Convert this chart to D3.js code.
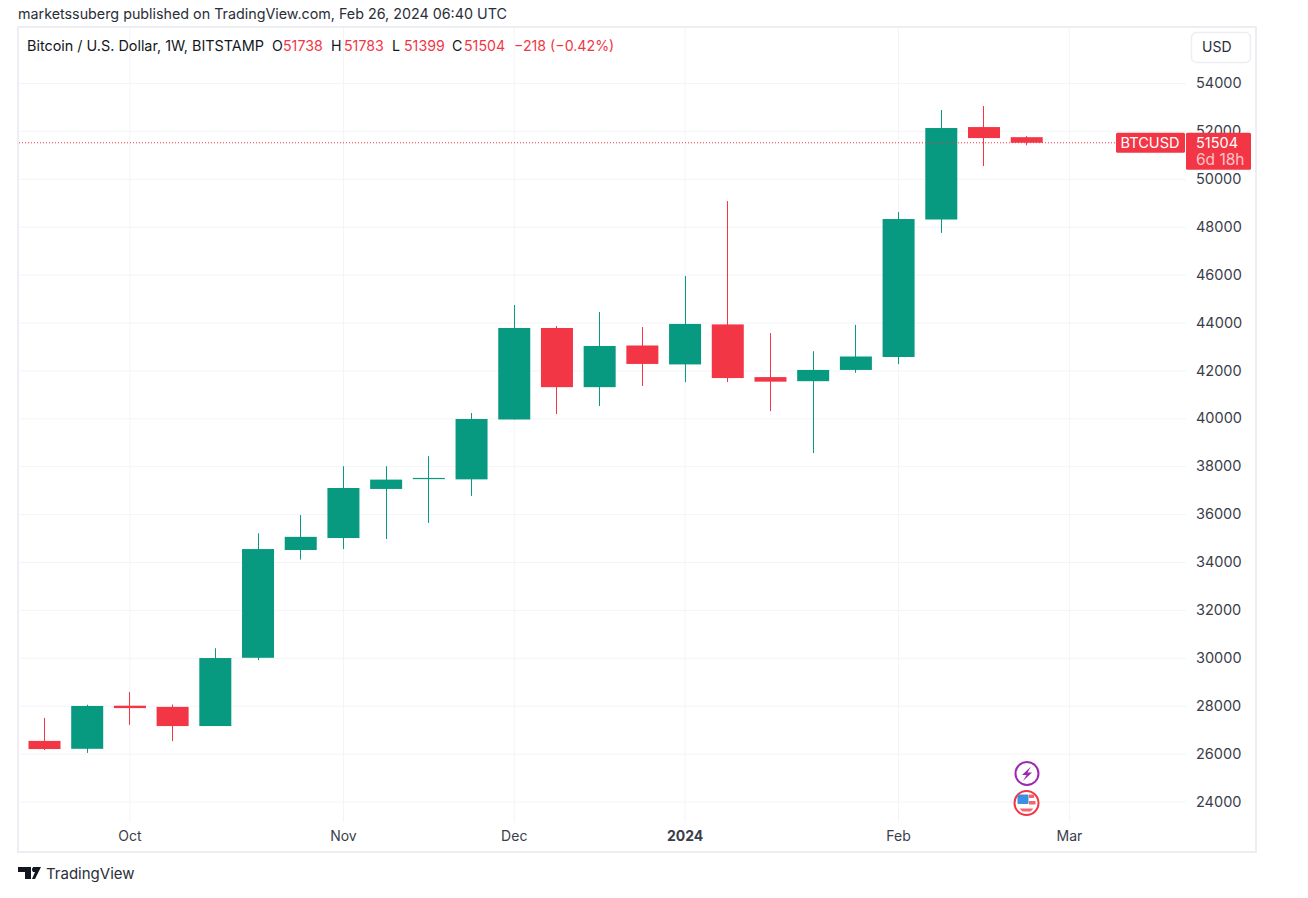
<!DOCTYPE html>
<html><head><meta charset="utf-8">
<script src="https://cdn.jsdelivr.net/npm/d3@7"></script>
<style>html,body{margin:0;padding:0;background:#fff}svg{display:block}text{font-family:Inter,"Liberation Sans",sans-serif}</style>
</head><body><svg id="c" width="1308" height="898"></svg>
<script>
const weeks = ["2023-09-18","2023-09-25","2023-10-02","2023-10-09","2023-10-16","2023-10-23","2023-10-30","2023-11-06","2023-11-13","2023-11-20","2023-11-27","2023-12-04","2023-12-11","2023-12-18","2023-12-25","2024-01-01","2024-01-08","2024-01-15","2024-01-22","2024-01-29","2024-02-05","2024-02-12","2024-02-19","2024-02-26"];
const opens  = [26530,26200,28000,27950,27150,30000,34500,35000,37050,37470,37450,39950,43770,41300,43040,42250,43920,41720,41550,42020,42560,48300,52160,51738];
const highs  = [27490,28040,28570,28050,30400,35200,35960,38000,38000,38420,40220,44730,43850,44440,43810,45940,49070,43560,42800,43900,48610,52870,53040,51783];
const lows   = [26150,26030,27200,26520,27150,29900,34100,34540,34960,35630,36760,39950,40180,40510,41350,41510,41510,40300,38550,41900,42260,47740,50530,51399];
const closes = [26190,27990,27900,27150,29990,34540,35050,37090,37440,37510,39970,43770,41300,43020,42270,43940,41680,41530,42020,42580,48320,52120,51700,51504];
const priceTicks = [24000,26000,28000,30000,32000,34000,36000,38000,40000,42000,44000,46000,48000,50000,52000,54000];
const timeTickDates = ["2023-10-02","2023-11-06","2023-12-04","2024-01-01","2024-02-05","2024-03-04"];
const timeTickLabels = ["Oct","Nov","Dec","2024","Feb","Mar"];
const publishedLine = "marketssuberg published on TradingView.com, Feb 26, 2024 06:40 UTC";
const symbolLine = "Bitcoin / U.S. Dollar, 1W, BITSTAMP";
const ohlcLabels = ["O","H","L","C"];
const lastOhlc = ["51738","51783","51399","51504"];
const changeText = "\u2212218 (\u22120.42%)";
const lastPrice = 51504;

const UP="#089981", DOWN="#f23645", GRID="#f3f4f7", TEXT="#131722", BORDER="#eceef3";
const svg=d3.select("#c");
const parse=d3.utcParse("%Y-%m-%d");
const dates=weeks.map(parse);
const x=d3.scaleUtc().domain([dates[0],dates[dates.length-1]]).range([44,1026.2]);
const y=d3.scaleLinear().domain([24000,54000]).range([801.5,83]);
const paneL=19,paneR=1186,paneT=28,paneB=822;

// frame
svg.append("rect").attr("x",18).attr("y",27).attr("width",1238).attr("height",825).attr("fill","#fff").attr("stroke",BORDER).attr("stroke-width",2);

// grid + axes through d3 axes
const xAxis=d3.axisBottom(x).tickValues(timeTickDates.map(parse)).tickSize(-(paneB-paneT)).tickPadding(9)
  .tickFormat((d,i)=>timeTickLabels[i]);
const gx=svg.append("g").attr("transform",`translate(0,${paneB})`).call(xAxis);
gx.select(".domain").remove();
gx.selectAll("line").attr("stroke",GRID);
gx.selectAll("text").attr("fill","#3a3e4a").attr("font-size",14).attr("font-weight",(d,i)=>timeTickLabels[i]==="2024"?700:400);

const yAxis=d3.axisRight(y).tickValues(priceTicks).tickSize(-(paneR-paneL)).tickPadding(10).tickFormat(d3.format("d"));
const gy=svg.append("g").attr("transform",`translate(${paneR},0)`).call(yAxis);
gy.select(".domain").remove();
gy.selectAll("line").attr("stroke",GRID);
gy.selectAll("text").attr("fill","#3a3e4a").attr("font-size",14.5);

// candles
const idx=d3.range(weeks.length);
const col=i=>closes[i]>=opens[i]?UP:DOWN;
const bodyW=32;
const g=svg.append("g");
g.selectAll("line.wick").data(idx).join("line").attr("class","wick")
 .attr("x1",i=>Math.round(x(dates[i]))+.5).attr("x2",i=>Math.round(x(dates[i]))+.5)
 .attr("y1",i=>y(highs[i])).attr("y2",i=>y(lows[i])).attr("stroke",col).attr("stroke-width",1);
g.selectAll("rect.body").data(idx).join("rect").attr("class","body")
 .attr("x",i=>x(dates[i])-bodyW/2+.5).attr("width",bodyW)
 .attr("y",i=>y(Math.max(opens[i],closes[i])))
 .attr("height",i=>Math.max(1.2,Math.abs(y(opens[i])-y(closes[i])))).attr("fill",col);

// last price line and labels
const py=y(lastPrice);
svg.append("line").attr("x1",paneL).attr("x2",1116).attr("y1",py).attr("y2",py).attr("stroke",DOWN).attr("stroke-width",1).attr("stroke-dasharray","1 2");
svg.append("rect").attr("x",1116).attr("y",py-10).attr("width",69).attr("height",20).attr("rx",1.5).attr("fill",DOWN);
svg.append("text").attr("x",1150).attr("y",py+5).attr("text-anchor","middle").attr("fill","#fff").attr("font-size",14.6).text("BTCUSD");
svg.append("rect").attr("x",1186).attr("y",py-10).attr("width",65).attr("height",37).attr("rx",1.5).attr("fill",DOWN);
svg.append("text").attr("x",1196).attr("y",py+5.5).attr("fill","#fff").attr("font-size",14.5).text(d3.format("d")(lastPrice));
svg.append("text").attr("x",1196).attr("y",py+22.5).attr("fill","#fbc3c8").attr("font-size",15.5).text("6d 18h");

// USD button
svg.append("rect").attr("x",1191.5).attr("y",32.5).attr("width",59).attr("height",30).attr("rx",5).attr("fill","#fff").attr("stroke",BORDER).attr("stroke-width",1.5);
svg.append("text").attr("x",1202).attr("y",52).attr("fill","#2a2e39").attr("font-size",14).text("USD");

// header texts
svg.append("text").attr("x",18).attr("y",18.5).attr("fill","#2a2e39").attr("font-size",14.3).text(publishedLine);
svg.append("text").attr("x",27).attr("y",51).attr("fill",TEXT).attr("font-size",14.4).text(symbolLine);
const ox=[272,331,392,452], vx=[283,344,404,464];
ohlcLabels.forEach((l,i)=>{
  svg.append("text").attr("x",ox[i]).attr("y",51).attr("fill",TEXT).attr("font-size",14.2).text(l);
  svg.append("text").attr("x",vx[i]).attr("y",51).attr("fill",DOWN).attr("font-size",14.2).text(lastOhlc[i]);
});
svg.append("text").attr("x",514).attr("y",51).attr("fill",DOWN).attr("font-size",14.2).text(changeText);

// event icons
const ev=svg.append("g");
ev.append("circle").attr("cx",1027).attr("cy",773.5).attr("r",11.5).attr("fill","#fff").attr("stroke","#9c27b0").attr("stroke-width",2);
ev.append("path").attr("d","M1031 766.5L1022 775H1026.5L1023 781L1032 772.5H1027.5Z").attr("fill","#9c27b0");
ev.append("circle").attr("cx",1026.5).attr("cy",803).attr("r",12).attr("fill","#fff").attr("stroke","#f23645").attr("stroke-width",2);
ev.append("path").attr("d","M1029 794.5h5v3.5h-5zM1029 801h6.5v3.5h-6.5zM1019.5 808.5h14l-3 3h-8z").attr("fill","#f4666f");
ev.append("rect").attr("x",1017.5).attr("y",794.5).attr("width",11).attr("height",9.5).attr("rx",1).attr("fill","#3d8fe0");

// footer logo
svg.append("path").attr("d","M18 867H31V879H25V872H18ZM33 867H41L35 879H32L35 872H33Z").attr("fill","#131722");
svg.append("circle").attr("cx",34.5).attr("cy",869.5).attr("r",2.5).attr("fill","#131722");
svg.append("text").attr("x",46).attr("y",879).attr("fill","#2a2e39").attr("font-size",15).text("TradingView");
</script></body></html>
